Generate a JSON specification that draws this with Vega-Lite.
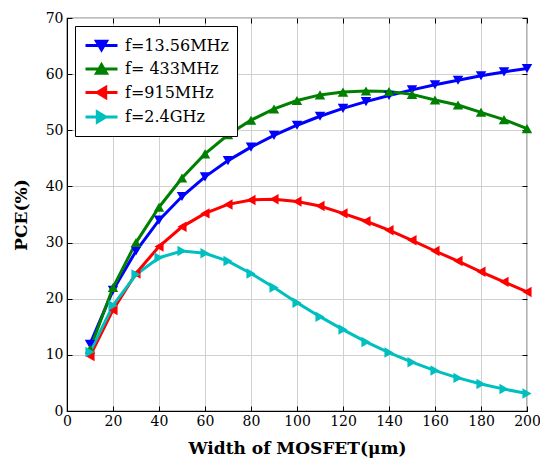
{
  "$schema": "https://vega.github.io/schema/vega-lite/v6.json",
  "width": 460,
  "height": 393,
  "autosize": "none",
  "padding": {"left": 67, "top": 18, "right": 13, "bottom": 49},
  "background": "white",
  "config": {
    "font": "DejaVu Serif",
    "view": {"stroke": "black", "strokeWidth": 1.2},
    "axis": {
      "labelFont": "DejaVu Serif",
      "labelFontSize": 14,
      "labelColor": "black",
      "titleFont": "DejaVu Serif",
      "titleFontSize": 17,
      "titleFontWeight": "bold",
      "titleColor": "black",
      "domainColor": "black",
      "tickColor": "black",
      "gridColor": "#d0d0d0",
      "gridWidth": 1
    }
  },
  "data": {
    "values": [
      {"w": 10, "pce": 11.9, "f": "f=13.56MHz"},
      {"w": 20, "pce": 21.5, "f": "f=13.56MHz"},
      {"w": 30, "pce": 28.5, "f": "f=13.56MHz"},
      {"w": 40, "pce": 34.0, "f": "f=13.56MHz"},
      {"w": 50, "pce": 38.2, "f": "f=13.56MHz"},
      {"w": 60, "pce": 41.7, "f": "f=13.56MHz"},
      {"w": 70, "pce": 44.6, "f": "f=13.56MHz"},
      {"w": 80, "pce": 47.0, "f": "f=13.56MHz"},
      {"w": 90, "pce": 49.1, "f": "f=13.56MHz"},
      {"w": 100, "pce": 50.9, "f": "f=13.56MHz"},
      {"w": 110, "pce": 52.5, "f": "f=13.56MHz"},
      {"w": 120, "pce": 53.9, "f": "f=13.56MHz"},
      {"w": 130, "pce": 55.1, "f": "f=13.56MHz"},
      {"w": 140, "pce": 56.2, "f": "f=13.56MHz"},
      {"w": 150, "pce": 57.2, "f": "f=13.56MHz"},
      {"w": 160, "pce": 58.1, "f": "f=13.56MHz"},
      {"w": 170, "pce": 58.9, "f": "f=13.56MHz"},
      {"w": 180, "pce": 59.7, "f": "f=13.56MHz"},
      {"w": 190, "pce": 60.4, "f": "f=13.56MHz"},
      {"w": 200, "pce": 61.0, "f": "f=13.56MHz"},
      {"w": 10, "pce": 11.0, "f": "f= 433MHz"},
      {"w": 20, "pce": 22.0, "f": "f= 433MHz"},
      {"w": 30, "pce": 30.0, "f": "f= 433MHz"},
      {"w": 40, "pce": 36.3, "f": "f= 433MHz"},
      {"w": 50, "pce": 41.5, "f": "f= 433MHz"},
      {"w": 60, "pce": 45.8, "f": "f= 433MHz"},
      {"w": 70, "pce": 49.2, "f": "f= 433MHz"},
      {"w": 80, "pce": 51.8, "f": "f= 433MHz"},
      {"w": 90, "pce": 53.8, "f": "f= 433MHz"},
      {"w": 100, "pce": 55.3, "f": "f= 433MHz"},
      {"w": 110, "pce": 56.3, "f": "f= 433MHz"},
      {"w": 120, "pce": 56.8, "f": "f= 433MHz"},
      {"w": 130, "pce": 57.0, "f": "f= 433MHz"},
      {"w": 140, "pce": 56.9, "f": "f= 433MHz"},
      {"w": 150, "pce": 56.4, "f": "f= 433MHz"},
      {"w": 160, "pce": 55.4, "f": "f= 433MHz"},
      {"w": 170, "pce": 54.5, "f": "f= 433MHz"},
      {"w": 180, "pce": 53.2, "f": "f= 433MHz"},
      {"w": 190, "pce": 51.9, "f": "f= 433MHz"},
      {"w": 200, "pce": 50.3, "f": "f= 433MHz"},
      {"w": 10, "pce": 9.8, "f": "f=915MHz"},
      {"w": 20, "pce": 18.0, "f": "f=915MHz"},
      {"w": 30, "pce": 24.5, "f": "f=915MHz"},
      {"w": 40, "pce": 29.3, "f": "f=915MHz"},
      {"w": 50, "pce": 32.8, "f": "f=915MHz"},
      {"w": 60, "pce": 35.2, "f": "f=915MHz"},
      {"w": 70, "pce": 36.8, "f": "f=915MHz"},
      {"w": 80, "pce": 37.6, "f": "f=915MHz"},
      {"w": 90, "pce": 37.7, "f": "f=915MHz"},
      {"w": 100, "pce": 37.3, "f": "f=915MHz"},
      {"w": 110, "pce": 36.5, "f": "f=915MHz"},
      {"w": 120, "pce": 35.2, "f": "f=915MHz"},
      {"w": 130, "pce": 33.8, "f": "f=915MHz"},
      {"w": 140, "pce": 32.2, "f": "f=915MHz"},
      {"w": 150, "pce": 30.4, "f": "f=915MHz"},
      {"w": 160, "pce": 28.5, "f": "f=915MHz"},
      {"w": 170, "pce": 26.7, "f": "f=915MHz"},
      {"w": 180, "pce": 24.8, "f": "f=915MHz"},
      {"w": 190, "pce": 23.0, "f": "f=915MHz"},
      {"w": 200, "pce": 21.2, "f": "f=915MHz"},
      {"w": 10, "pce": 10.5, "f": "f=2.4GHz"},
      {"w": 20, "pce": 18.8, "f": "f=2.4GHz"},
      {"w": 30, "pce": 24.3, "f": "f=2.4GHz"},
      {"w": 40, "pce": 27.3, "f": "f=2.4GHz"},
      {"w": 50, "pce": 28.5, "f": "f=2.4GHz"},
      {"w": 60, "pce": 28.1, "f": "f=2.4GHz"},
      {"w": 70, "pce": 26.7, "f": "f=2.4GHz"},
      {"w": 80, "pce": 24.5, "f": "f=2.4GHz"},
      {"w": 90, "pce": 22.0, "f": "f=2.4GHz"},
      {"w": 100, "pce": 19.3, "f": "f=2.4GHz"},
      {"w": 110, "pce": 16.8, "f": "f=2.4GHz"},
      {"w": 120, "pce": 14.5, "f": "f=2.4GHz"},
      {"w": 130, "pce": 12.3, "f": "f=2.4GHz"},
      {"w": 140, "pce": 10.4, "f": "f=2.4GHz"},
      {"w": 150, "pce": 8.7, "f": "f=2.4GHz"},
      {"w": 160, "pce": 7.2, "f": "f=2.4GHz"},
      {"w": 170, "pce": 5.9, "f": "f=2.4GHz"},
      {"w": 180, "pce": 4.8, "f": "f=2.4GHz"},
      {"w": 190, "pce": 3.9, "f": "f=2.4GHz"},
      {"w": 200, "pce": 3.1, "f": "f=2.4GHz"}
    ]
  },
  "layer": [
    {
      "encoding": {
        "x": {
          "field": "w",
          "type": "quantitative",
          "scale": {"domain": [0, 200], "nice": false, "zero": false},
          "axis": {
            "title": "Width of MOSFET(μm)",
            "values": [0, 20, 40, 60, 80, 100, 120, 140, 160, 180, 200],
            "tickSize": -5,
            "labelPadding": 8,
            "titlePadding": 12,
            "labelFlush": false
          }
        },
        "y": {
          "field": "pce",
          "type": "quantitative",
          "scale": {"domain": [0, 70], "nice": false},
          "axis": {
            "title": "PCE(%)",
            "values": [0, 10, 20, 30, 40, 50, 60, 70],
            "tickSize": -5,
            "labelPadding": 9,
            "titlePadding": 15,
            "labelFlush": false
          }
        }
      },
      "layer": [
        {
          "mark": {"type": "line", "strokeWidth": 3},
          "encoding": {
            "color": {
              "field": "f",
              "type": "nominal",
              "scale": {
                "domain": ["f=13.56MHz", "f= 433MHz", "f=915MHz", "f=2.4GHz"],
                "range": ["#0000ff", "#008000", "#ff0000", "#00bfbf"]
              },
              "legend": {
                "title": null,
                "orient": "top-left",
                "offset": 8,
                "strokeColor": "black",
                "fillColor": "white",
                "padding": 8,
                "cornerRadius": 0,
                "labelFont": "DejaVu Serif",
                "labelFontSize": 16,
                "labelColor": "black",
                "symbolSize": 400,
                "symbolOffset": 7,
                "symbolStrokeWidth": 3,
                "rowPadding": 1.5,
                "labelOffset": 12,
                "encode": {
                  "symbols": {
                    "update": {
                      "shape": {"signal": "datum.value === 'f=13.56MHz' ? 'M-1.6,0H1.6M-0.5,-0.42H0.5L0,0.42Z' : datum.value === 'f= 433MHz' ? 'M-1.6,0H1.6M-0.5,0.42H0.5L0,-0.42Z' : datum.value === 'f=915MHz' ? 'M-1.6,0H1.6M0.42,-0.5V0.5L-0.42,0Z' : 'M-1.6,0H1.6M-0.42,-0.5V0.5L0.42,0Z'"},
                      "fill": {"signal": "scale('color', datum.value)"},
                      "stroke": {"signal": "scale('color', datum.value)"},
                      "strokeWidth": {"value": 3},
                      "opacity": {"value": 1}
                    }
                  }
                }
              }
            }
          }
        },
        {
          "transform": [{"filter": "datum.f === 'f=13.56MHz'"}],
          "mark": {"type": "point", "shape": "triangle-down", "filled": true, "opacity": 1, "size": 110, "color": "#0000ff"}
        },
        {
          "transform": [{"filter": "datum.f === 'f= 433MHz'"}],
          "mark": {"type": "point", "shape": "triangle-up", "filled": true, "opacity": 1, "size": 110, "color": "#008000"}
        },
        {
          "transform": [{"filter": "datum.f === 'f=915MHz'"}],
          "mark": {"type": "point", "shape": "triangle-left", "filled": true, "opacity": 1, "size": 110, "color": "#ff0000"}
        },
        {
          "transform": [{"filter": "datum.f === 'f=2.4GHz'"}],
          "mark": {"type": "point", "shape": "triangle-right", "filled": true, "opacity": 1, "size": 110, "color": "#00bfbf"}
        }
      ]
    },
    {
      "mark": {"type": "point", "opacity": 0},
      "encoding": {
        "x": {
          "field": "w",
          "type": "quantitative",
          "axis": {
            "orient": "top",
            "title": null,
            "labels": false,
            "grid": false,
            "domain": false,
            "tickSize": -5,
            "values": [0, 20, 40, 60, 80, 100, 120, 140, 160, 180, 200]
          }
        },
        "y": {
          "field": "pce",
          "type": "quantitative",
          "axis": {
            "orient": "right",
            "title": null,
            "labels": false,
            "grid": false,
            "domain": false,
            "tickSize": -5,
            "values": [0, 10, 20, 30, 40, 50, 60, 70]
          }
        }
      }
    }
  ],
  "resolve": {"axis": {"x": "independent", "y": "independent"}}
}
